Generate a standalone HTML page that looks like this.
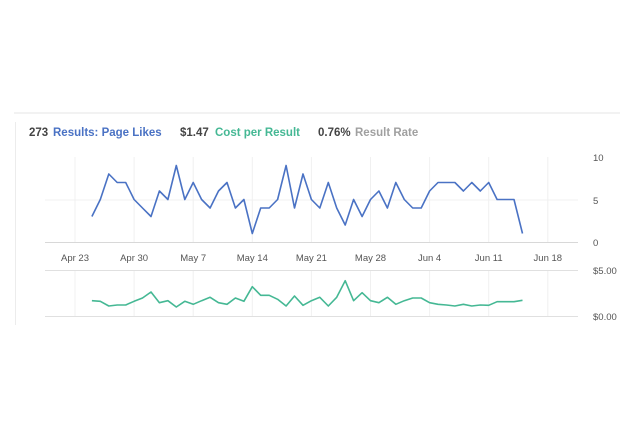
<!DOCTYPE html>
<html><head><meta charset="utf-8"><style>
html,body{margin:0;padding:0;background:#fff;width:630px;height:437px;overflow:hidden;font-family:"Liberation Sans",Arial,sans-serif}
</style></head><body>
<svg width="630" height="437" xmlns="http://www.w3.org/2000/svg" font-family="Liberation Sans, Arial, sans-serif">
<line x1="14" y1="113" x2="620" y2="113" stroke="#e6e6e6" stroke-width="1"/>
<line x1="15.5" y1="122" x2="15.5" y2="325" stroke="#ececec" stroke-width="1"/>
<text y="136" font-size="11.5" font-weight="bold">
<tspan x="29" fill="#444">273</tspan><tspan x="53" fill="#4a72c4">Results: Page Likes</tspan>
<tspan x="180" fill="#444">$1.47</tspan><tspan x="215" fill="#45b894">Cost per Result</tspan>
<tspan x="318" fill="#444">0.76%</tspan><tspan x="355" fill="#a0a0a0">Result Rate</tspan>
</text>
<g id="grid" stroke="#f0f0f0" stroke-width="1"></g>
<line x1="45" y1="200" x2="578" y2="200" stroke="#f0f0f0"/>
<line x1="45" y1="242.5" x2="578" y2="242.5" stroke="#d8d8d8"/>
<line x1="45" y1="270.5" x2="578" y2="270.5" stroke="#e0e0e0"/>
<line x1="45" y1="316.5" x2="578" y2="316.5" stroke="#e0e0e0"/>
<g font-size="9.5" fill="#555" id="xl"></g>
<g font-size="9.5" fill="#555">
<text x="593" y="161">10</text><text x="593" y="204">5</text><text x="593" y="246">0</text>
<text x="593" y="274">$5.00</text><text x="593" y="320">$0.00</text>
</g>
<polyline id="p1" fill="none" stroke="#4a72c4" stroke-width="1.6" stroke-linejoin="round"/>
<polyline id="p2" fill="none" stroke="#45b894" stroke-width="1.6" stroke-linejoin="round"/>
</svg>
<script>
var ns="http://www.w3.org/2000/svg";
var labels=["Apr 23","Apr 30","May 7","May 14","May 21","May 28","Jun 4","Jun 11","Jun 18"];
var g=document.getElementById("grid"),xl=document.getElementById("xl");
for(var i=0;i<9;i++){var x=75+i*59.1;
 var l=document.createElementNS(ns,"line");l.setAttribute("x1",x);l.setAttribute("x2",x);l.setAttribute("y1",157);l.setAttribute("y2",242);g.appendChild(l);
 var l2=document.createElementNS(ns,"line");l2.setAttribute("x1",x);l2.setAttribute("x2",x);l2.setAttribute("y1",271);l2.setAttribute("y2",316);g.appendChild(l2);
 var t=document.createElementNS(ns,"text");t.setAttribute("x",x);t.setAttribute("y",261);t.setAttribute("text-anchor","middle");t.textContent=labels[i];xl.appendChild(t);}
var v=[3,5,8,7,7,5,4,3,6,5,9,5,7,5,4,6,7,4,5,1,4,4,5,9,4,8,5,4,7,4,2,5,3,5,6,4,7,5,4,4,6,7,7,7,6,7,6,7,5,5,5,1];
var c=[602,604,618,615,615,604,594,576,608,602,621,604,613,602,592,608,613,594,604,560,586,586,598,618,588,616,602,592,618,592,542,602,578,602,608,592,613,602,594,594,608,613,615,618,613,618,615,616,605,605,605,601];
var a=[],b=[];
for(var i=0;i<v.length;i++){var x=75+(i+2)*59.1/7;a.push(x.toFixed(1)+","+(242-v[i]*8.5).toFixed(1));b.push(x.toFixed(1)+","+(100+c[i]/3).toFixed(1));}
document.getElementById("p1").setAttribute("points",a.join(" "));
document.getElementById("p2").setAttribute("points",b.join(" "));
</script>
</body></html>
